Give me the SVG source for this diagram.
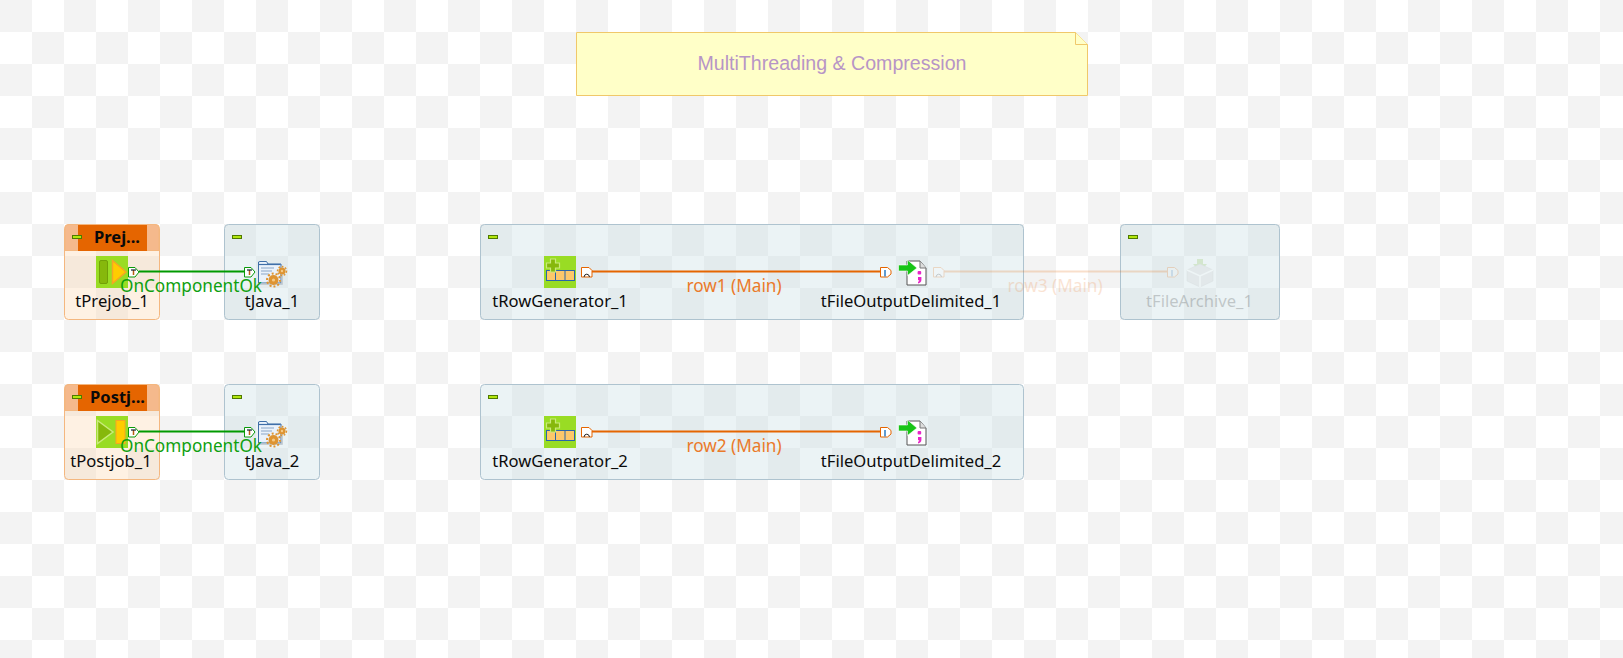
<svg xmlns="http://www.w3.org/2000/svg" width="1623" height="658" viewBox="0 0 1623 658">
<style>
text{font-family:"Noto Sans","Open Sans","Liberation Sans",sans-serif;font-size:16.600px;text-anchor:middle}
.box{fill:#c5dde2;fill-opacity:.35;stroke:#aec3cf;stroke-width:1}
.obox{fill:#fcd7af;fill-opacity:.35;stroke:#f4b77f;stroke-width:1}
.lbl{fill:#0b0b0b}
.min{fill:#b2e60e;stroke:#4f7a00;stroke-width:1}
text.hd{font-weight:bold;font-size:16.500px;fill:#0a0a0a}
text.g{fill:#0fa00f;font-size:17.200px}
text.o{fill:#ea7a2a;font-size:17.200px}
.gl{stroke:#009a00;stroke-width:2;fill:none}
.ol{stroke:#e56500;stroke-width:2;fill:none}
</style>
<defs>
<pattern id="chk" width="64" height="64" patternUnits="userSpaceOnUse">
<rect width="64" height="64" fill="#fff"/>
<rect width="32" height="32" fill="#f3f3f3"/>
<rect x="32" y="32" width="32" height="32" fill="#f3f3f3"/>
</pattern>
<g id="tport">
<path d="M0.500 0.500H7L11 5L7 10H0.500Z" fill="#fff" stroke="#0a9a0a" stroke-width="1"/>
<path d="M5.500 3V8" stroke="#b85c10" stroke-width="1.500" fill="none"/>
<path d="M3 3H8" stroke="#123" stroke-width="1.200" fill="none"/>
</g>
<g id="oout">
<path d="M0.500 0.500H8L11 3.500V10H0.500Z" fill="#fff" stroke="#e56500" stroke-width="1"/>
<path d="M3 10A2.800 3.500 0 0 1 8.500 10" fill="none" stroke="#222" stroke-width="1"/>
</g>
<g id="oin">
<path d="M0.500 0.500H7.500L11 3.500V7L7.500 10H0.500Z" fill="#fff" stroke="#e56500" stroke-width="1"/>
<path d="M5 3V9.500" stroke="#2a7ac0" stroke-width="1.500"/>
</g>
<g id="javaicon">
<path d="M0.500 2V23H23V4H10L8.500 1.500H2Z" fill="#eaf2fb" stroke="#3f6fa8" stroke-width="1"/>
<path d="M1 4.500H22.500" stroke="#3f6fa8" stroke-width="1.200"/>
<path d="M3 8H16M3 11H14M3 14H11" stroke="#8aa6c8" stroke-width="1"/>
<path d="M1 24H24V6" stroke="#b9c3cc" stroke-width="1.500" fill="none"/>
<circle cx="15.500" cy="20" r="5" fill="#de9432"/>
<circle cx="15.500" cy="20" r="6.500" fill="none" stroke="#de9432" stroke-width="2" stroke-dasharray="2 2"/>
<circle cx="15.500" cy="20" r="1.600" fill="#f3c988"/>
<circle cx="24" cy="11" r="3.600" fill="#de9432"/>
<circle cx="24" cy="11" r="4.500" fill="none" stroke="#de9432" stroke-width="1.400" stroke-dasharray="1.700 1.700"/>
<circle cx="24" cy="11" r="1.200" fill="#f3c988"/>
</g>
<g id="genicon">
<rect width="32" height="32" fill="#99dc24"/>
<rect x="2.500" y="14.500" width="28" height="10" fill="#fdc86a" stroke="#2a66a8" stroke-width="1"/>
<path d="M11.500 15V24M21 15V24" stroke="#2a66a8" stroke-width="1"/>
<path d="M2.500 7H6.500V3H11.500V7H15.500V12H11.500V16H6.500V12H2.500Z" fill="#86b80c" stroke="#c9ea7a" stroke-width="1.200"/>
</g>
<g id="fileicon">
<path d="M9 1H22L28 8V25H9Z" fill="#fff" stroke="#555" stroke-width="1"/>
<path d="M22 1V8H28" fill="#ddd" stroke="#777" stroke-width="1"/>
<rect x="19.600" y="11" width="3.600" height="3.400" rx="1" fill="#e824c8"/>
<path d="M20 17H23.400V20C23.400 22 22 23 20 23.500V21.800C21 21.500 21.200 21 21.200 20.300H20Z" fill="#e824c8"/>
<path d="M0.500 5H9.500V0L19 8L9.500 15.500V11H0.500Z" fill="#17c417" stroke="#fff" stroke-width="0.600"/>
</g>
</defs>
<rect id="background" width="1623" height="658" fill="url(#chk)"/>

<g id="note">
<path d="M576.500 32.500H1075.500L1087.500 44.500V95.500H576.500Z" fill="#ffffc8" stroke="#f0c86a"/>
<path d="M1075.500 32.500V44.500H1087.500" fill="#ffffc8" stroke="#f0c86a"/>
<text x="832" y="70" style="font-family:'Liberation Sans',sans-serif;font-size:19.600px" fill="#b795c6">MultiThreading &amp; Compression</text>
</g>

<g id="tPrejob_1">
<rect class="obox" x="64.500" y="224.500" width="95" height="95" rx="4"/>
<path d="M65 250.500V228.500a4 4 0 0 1 4-4H155a4 4 0 0 1 4 4V250.500Z" fill="#f5b98c" stroke="#f4b77f"/>
<rect x="78" y="225" width="69" height="26" fill="#e56500"/>
<rect class="min" x="72.500" y="235.500" width="9" height="3"/>
<text class="hd" x="117" y="243">Prej...</text>
<rect x="96" y="256" width="32" height="32" fill="#99dc24"/>
<rect x="99.500" y="260.500" width="8" height="23" rx="1.500" fill="#86b80c" stroke="#72a008"/>
<path d="M112.500 260.500L126 272L112.500 283.500Z" fill="#ffcc00" stroke="#f5a623" stroke-width="1.500"/>
<text class="lbl" x="112" y="307">tPrejob_1</text>
</g>
<g id="tJava_1">
<rect class="box" x="224.500" y="224.500" width="95" height="95" rx="4"/>
<rect class="min" x="232.500" y="235.500" width="9" height="3"/>
<use href="#javaicon" x="258" y="260"/>
<text class="lbl" x="272" y="307">tJava_1</text>
</g>
<g id="tPostjob_1">
<rect class="obox" x="64.500" y="384.500" width="95" height="95" rx="4"/>
<path d="M65 410.500V388.500a4 4 0 0 1 4-4H155a4 4 0 0 1 4 4V410.500Z" fill="#f5b98c" stroke="#f4b77f"/>
<rect x="78" y="385" width="69" height="26" fill="#e56500"/>
<rect class="min" x="72.500" y="395.500" width="9" height="3"/>
<text class="hd" x="117.500" y="403">Postj...</text>
<rect x="96" y="416" width="32" height="32" fill="#99dc24"/>
<path d="M97.500 420.500L113 432L97.500 443.500Z" fill="#86b80c" stroke="#c9ea7a" stroke-width="1.500"/>
<rect x="116" y="420.500" width="9" height="23" fill="#ffcc00" stroke="#f5a623"/>
<text class="lbl" x="111" y="467">tPostjob_1</text>
</g>
<g id="tJava_2">
<rect class="box" x="224.500" y="384.500" width="95" height="95" rx="4"/>
<rect class="min" x="232.500" y="395.500" width="9" height="3"/>
<use href="#javaicon" x="258" y="420"/>
<text class="lbl" x="272" y="467">tJava_2</text>
</g>
<g id="tRowGenerator_1_subjob">
<rect class="box" x="480.500" y="224.500" width="543" height="95" rx="4"/>
<rect class="min" x="488.500" y="235.500" width="9" height="3"/>
</g>
<g id="tRowGenerator_1">
<use href="#genicon" x="544" y="256"/>
<text class="lbl" x="560" y="307">tRowGenerator_1</text>
</g>
<g id="tFileOutputDelimited_1">
<use href="#fileicon" x="898" y="260"/>
<text class="lbl" x="911" y="307">tFileOutputDelimited_1</text>
</g>
<g id="tRowGenerator_2_subjob">
<rect class="box" x="480.500" y="384.500" width="543" height="95" rx="4"/>
<rect class="min" x="488.500" y="395.500" width="9" height="3"/>
</g>
<g id="tRowGenerator_2">
<use href="#genicon" x="544" y="416"/>
<text class="lbl" x="560" y="467">tRowGenerator_2</text>
</g>
<g id="tFileOutputDelimited_2">
<use href="#fileicon" x="898" y="420"/>
<text class="lbl" x="911" y="467">tFileOutputDelimited_2</text>
</g>
<g id="tFileArchive_1_subjob">
<rect class="box" x="1120.500" y="224.500" width="159" height="95" rx="4"/>
<rect class="min" x="1128.500" y="235.500" width="9" height="3"/>
</g>
<g id="tFileArchive_1" opacity="0.18">
<path d="M1203 259V264H1207L1200 272L1193 264H1197V259Z" fill="#69b020"/>
<path d="M1187 270L1200 264L1213 270V281L1200 287L1187 281Z" fill="#bbb" stroke="#888" stroke-width="0.500"/>
<path d="M1187 270L1200 276L1213 270M1200 276V287" fill="none" stroke="#fff" stroke-width="1.500"/>
<text x="1199.500" y="307" fill="#000">tFileArchive_1</text>
</g>

<g id="connectors">
<g id="c1">
<path class="gl" d="M139 271.500H244"/>
<use href="#tport" x="128" y="267"/>
<use href="#tport" x="244" y="267"/>
<text class="g" x="191" y="292">OnComponentOk</text>
</g>
<g id="c2">
<path class="gl" d="M139 431.500H244"/>
<use href="#tport" x="128" y="427"/>
<use href="#tport" x="244" y="427"/>
<text class="g" x="191" y="452">OnComponentOk</text>
</g>
<g id="c3">
<path class="ol" d="M592 271.500H880"/>
<use href="#oout" x="581" y="267"/>
<use href="#oin" x="880" y="267"/>
<text class="o" x="734" y="292">row1 (Main)</text>
</g>
<g id="c4">
<path class="ol" d="M592 431.500H880"/>
<use href="#oout" x="581" y="427"/>
<use href="#oin" x="880" y="427"/>
<text class="o" x="734" y="452">row2 (Main)</text>
</g>
<g id="c5" opacity="0.2">
<path class="ol" d="M944 271.500H1167"/>
<use href="#oout" x="933" y="267"/>
<use href="#oin" x="1167" y="267"/>
<text class="o" x="1055" y="292">row3 (Main)</text>
</g>
</g>
</svg>
